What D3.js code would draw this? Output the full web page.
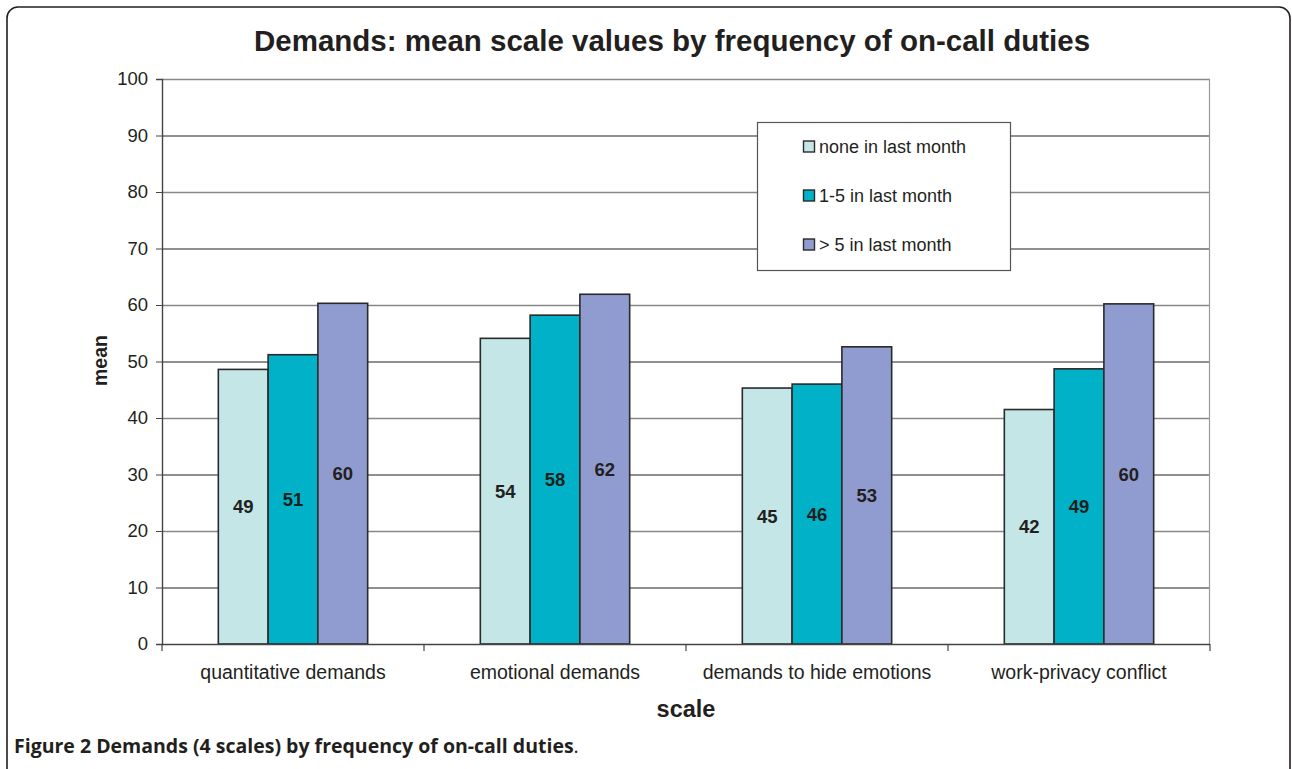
<!DOCTYPE html>
<html>
<head>
<meta charset="utf-8">
<script src="https://cdn.jsdelivr.net/npm/d3@7"></script>
<style>
  body { margin: 0; background: #fff; }
  text { fill: #231f20; }
</style>
</head>
<body>
<div id="chart"></div>
<script>
// chart data
var categories = ["quantitative demands", "emotional demands", "demands to hide emotions", "work-privacy conflict"];
var seriesNames = ["none in last month", "1-5 in last month", "> 5 in last month"];
var noneValues = [48.6, 54.1, 45.3, 41.5];
var oneToFiveValues = [51.2, 58.2, 46.0, 48.7];
var moreThanFiveValues = [60.3, 61.9, 52.6, 60.2];
var valueLabels = [[49, 51, 60], [54, 58, 62], [45, 46, 53], [42, 49, 60]];
var yTicks = [0, 10, 20, 30, 40, 50, 60, 70, 80, 90, 100];
var colors = ["#c4e6e6", "#00b1c7", "#909ccf"];

var W = 1292, H = 769;
var margin = {top: 79, left: 162, right: 82, bottom: 125};
var width = W - margin.left - margin.right,
    height = H - margin.top - margin.bottom;
var FONT = "'Liberation Sans', Arial, sans-serif";

var svg = d3.select("#chart").append("svg")
    .attr("width", W)
    .attr("height", H);

// outer frame with rounded corners
svg.append("rect")
    .attr("x", 7).attr("y", 7)
    .attr("width", 1283).attr("height", 775)
    .attr("rx", 11)
    .attr("fill", "none")
    .attr("stroke", "#231f20")
    .attr("stroke-width", 1.6);

svg.append("text")
    .attr("x", 672).attr("y", 51)
    .attr("text-anchor", "middle")
    .style("font", "bold 29.5px " + FONT)
    .text("Demands: mean scale values by frequency of on-call duties");

var g = svg.append("g")
    .attr("transform", "translate(" + margin.left + "," + margin.top + ")");

// scales
var x0 = d3.scaleBand().domain(categories).range([0, width]).padding(0);
var x1 = d3.scaleBand().domain(seriesNames)
    .range([x0.bandwidth() * 0.215, x0.bandwidth() * 0.785]).padding(0);
var y = d3.scaleLinear().domain([0, 100]).range([height, 0]);

// gridlines
g.selectAll("line.grid")
    .data(yTicks.filter(function(d) { return d > 0; }))
    .enter().append("line")
    .attr("class", "grid")
    .attr("x1", 0).attr("x2", width)
    .attr("y1", function(d) { return y(d) + 0.5; })
    .attr("y2", function(d) { return y(d) + 0.5; })
    .attr("stroke", function(d, i) { return i % 2 ? "#888" : "#231f20"; })
    .attr("stroke-width", function(d, i) { return i % 2 ? 1.6 : 1.1; });

// plot area right border
g.append("line")
    .attr("x1", width - 0.5).attr("x2", width - 0.5)
    .attr("y1", 0).attr("y2", height)
    .attr("stroke", "#999").attr("stroke-width", 1.2);

// bars
var rows = categories.map(function(c, i) {
  return {cat: c, vals: [noneValues[i], oneToFiveValues[i], moreThanFiveValues[i]], labels: valueLabels[i]};
});

var groups = g.selectAll("g.group")
    .data(rows)
    .enter().append("g")
    .attr("class", "group")
    .attr("transform", function(d) { return "translate(" + x0(d.cat) + ",0)"; });

groups.selectAll("rect")
    .data(function(d) { return d.vals.map(function(v, j) { return {name: seriesNames[j], v: v, j: j}; }); })
    .enter().append("rect")
    .attr("x", function(d) { return x1(d.name); })
    .attr("y", function(d) { return y(d.v); })
    .attr("width", x1.bandwidth())
    .attr("height", function(d) { return y(0) - y(d.v); })
    .attr("fill", function(d) { return colors[d.j]; })
    .attr("stroke", "#2a2a2a")
    .attr("stroke-width", 1.6);

groups.selectAll("text.val")
    .data(function(d) { return d.vals.map(function(v, j) { return {name: seriesNames[j], v: v, lab: d.labels[j]}; }); })
    .enter().append("text")
    .attr("class", "val")
    .attr("x", function(d) { return x1(d.name) + x1.bandwidth() / 2; })
    .attr("y", function(d) { return (y(d.v) + y(0)) / 2; })
    .attr("dy", "0.36em")
    .attr("text-anchor", "middle")
    .style("font", "bold 18.5px " + FONT)
    .text(function(d) { return d.lab; });

// y axis
var yAxis = d3.axisLeft(y).tickValues(yTicks).tickSize(6).tickPadding(8);
var yG = g.append("g").call(yAxis);
yG.select(".domain").attr("stroke", "#444").attr("stroke-width", 1.4);
yG.selectAll(".tick line").attr("stroke", "#444");
yG.selectAll(".tick text")
    .style("font", "18.5px " + FONT)
    .attr("fill", "#231f20");

// x axis (ticks between categories)
var xTickPos = d3.range(categories.length + 1).map(function(i) { return i * x0.step(); });
g.append("line")
    .attr("x1", 0).attr("x2", width)
    .attr("y1", height + 0.5).attr("y2", height + 0.5)
    .attr("stroke", "#444").attr("stroke-width", 1.6);
g.selectAll("line.xtick")
    .data(xTickPos)
    .enter().append("line")
    .attr("class", "xtick")
    .attr("x1", function(d) { return d; }).attr("x2", function(d) { return d; })
    .attr("y1", height).attr("y2", height + 7)
    .attr("stroke", "#444").attr("stroke-width", 1.2);
g.selectAll("text.xlab")
    .data(categories)
    .enter().append("text")
    .attr("class", "xlab")
    .attr("x", function(d) { return x0(d) + x0.bandwidth() / 2; })
    .attr("y", height + 35)
    .attr("text-anchor", "middle")
    .style("font", "19.5px " + FONT)
    .text(function(d) { return d; });

// axis titles
g.append("text")
    .attr("x", width / 2).attr("y", height + 73)
    .attr("text-anchor", "middle")
    .style("font", "bold 23.5px " + FONT)
    .text("scale");
g.append("text")
    .attr("transform", "translate(" + (-55) + "," + (y(50) - 1) + ") rotate(-90)")
    .attr("text-anchor", "middle")
    .style("font", "bold 19.5px " + FONT)
    .text("mean");

// legend
var legend = svg.append("g").attr("transform", "translate(757,122)");
legend.append("rect")
    .attr("x", 0.5).attr("y", 0.5)
    .attr("width", 253).attr("height", 148)
    .attr("fill", "#fff")
    .attr("stroke", "#555").attr("stroke-width", 1.2);
var items = legend.selectAll("g.item")
    .data(seriesNames)
    .enter().append("g")
    .attr("class", "item")
    .attr("transform", function(d, i) { return "translate(46," + (25 + i * 49) + ")"; });
items.append("rect")
    .attr("x", 0.5).attr("y", -6)
    .attr("width", 11).attr("height", 11)
    .attr("fill", function(d, i) { return colors[i]; })
    .attr("stroke", "#2a2a2a").attr("stroke-width", 1.4);
items.append("text")
    .attr("x", 16).attr("y", 0)
    .attr("dy", "0.35em")
    .style("font", "18px " + FONT)
    .text(function(d) { return d; });

// caption
var cap = svg.append("text")
    .attr("x", 14).attr("y", 753)
    .style("font", "bold 19.5px 'Open Sans', 'Noto Sans', sans-serif")
    .attr("fill", "#111");
cap.append("tspan").text("Figure 2 Demands (4 scales) by frequency of on-call duties");
cap.append("tspan").style("font-weight", "normal").text(".");
</script>
</body>
</html>
